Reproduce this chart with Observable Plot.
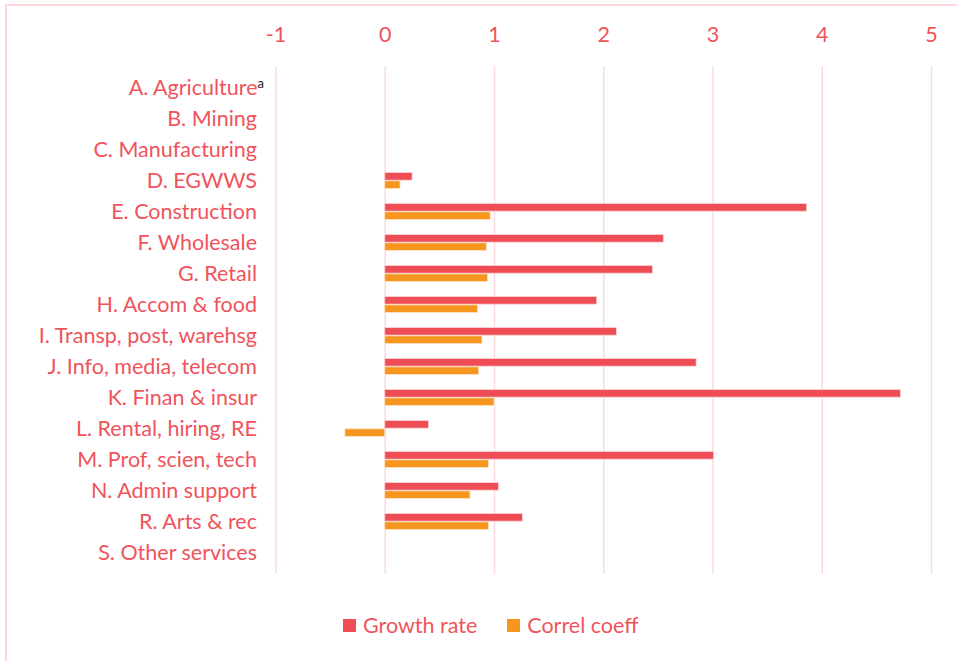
<!DOCTYPE html>
<html>
<head>
<meta charset="utf-8">
<script src="https://cdn.jsdelivr.net/npm/d3@7"></script>
<script src="https://cdn.jsdelivr.net/npm/@observablehq/plot@0.6"></script>
<style>
  html, body { margin: 0; padding: 0; background: #ffffff; overflow: hidden; }
  #frame {
    position: absolute; left: 5px; top: 4px; width: 960px; height: 670px;
    border-left: 2.5px solid #fdd6d9; border-top: 2.5px solid #fdd6d9; background: #fff;
  }
  #chart svg { display: block; }
  #legend {
    position: absolute; left: 336px; top: 606px; display: flex; align-items: center;
    font-family: Lato, "Open Sans", sans-serif; font-size: 21.5px; color: #f0535b;
  }
  .item { display: flex; align-items: center; margin-right: 30px; }
  .sw { width: 13px; height: 13px; margin-right: 7px; }
</style>
</head>
<body>
<div id="frame">
  <div id="chart"></div>
  <div id="legend"></div>
</div>
<script>
const sectors = [
  "A. Agriculture", "B. Mining", "C. Manufacturing", "D. EGWWS", "E. Construction",
  "F. Wholesale", "G. Retail", "H. Accom & food", "I. Transp, post, warehsg",
  "J. Info, media, telecom", "K. Finan & insur", "L. Rental, hiring, RE",
  "M. Prof, scien, tech", "N. Admin support", "R. Arts & rec", "S. Other services"
];
const growthRate = [null, null, null, 0.25, 3.86, 2.55, 2.45, 1.94, 2.12, 2.85, 4.72, 0.40, 3.01, 1.04, 1.26, null];
const correlCoeff = [null, null, null, 0.14, 0.965, 0.93, 0.94, 0.85, 0.89, 0.86, 1.0, -0.365, 0.95, 0.78, 0.95, null];
const xTicks = [-1, 0, 1, 2, 3, 4, 5];
const seriesNames = ["Growth rate", "Correl coeff"];
const seriesColors = ["#ef4d55", "#f7961f"];

const growthData = sectors.map((s, i) => ({sector: s, value: growthRate[i]})).filter(d => d.value != null);
const correlData = sectors.map((s, i) => ({sector: s, value: correlCoeff[i]})).filter(d => d.value != null);

const band = 507 / sectors.length;
const barH = 8.3;

const chart = Plot.plot({
  width: 950,
  height: 575,
  marginLeft: 268.5,
  marginRight: 26,
  marginTop: 60.5,
  marginBottom: 7.5,
  style: {fontFamily: "Lato, 'Open Sans', sans-serif", fontSize: "21.5px", color: "#f0535b", background: "transparent", overflow: "visible"},
  x: {domain: [-1, 5], ticks: xTicks, axis: "top", tickSize: 0, tickPadding: 25, label: null, tickFormat: d => String(d)},
  y: {domain: sectors, padding: 0, tickSize: 0, tickPadding: 19, label: null},
  marks: [
    Plot.gridX(xTicks, {stroke: "#fbdadd", strokeOpacity: 1, strokeWidth: 1.5}),
    Plot.barX(growthData, {x: "value", y: "sector", fill: seriesColors[0], stroke: "#fbd3d6", strokeWidth: 0.8,
      insetTop: band / 2 - barH, insetBottom: band / 2}),
    Plot.barX(correlData, {x: "value", y: "sector", fill: seriesColors[1], stroke: "#fde3c8", strokeWidth: 0.8,
      insetTop: band / 2, insetBottom: band / 2 - barH})
  ]
});
document.getElementById("chart").appendChild(chart);

// superscript "a" on Agriculture label
d3.select(chart).selectAll("text").each(function() {
  if (this.textContent === "A. Agriculture") {
    const t = d3.select(this);
    t.attr("dx", 7);
    t.append("tspan").attr("dy", "-0.55em").attr("font-size", "13px").attr("fill", "#222").text("a");
  }
});

const legend = d3.select("#legend");
seriesNames.forEach((n, i) => {
  const it = legend.append("div").attr("class", "item");
  it.append("div").attr("class", "sw").style("background", seriesColors[i]);
  it.append("span").text(n);
});
</script>
</body>
</html>
